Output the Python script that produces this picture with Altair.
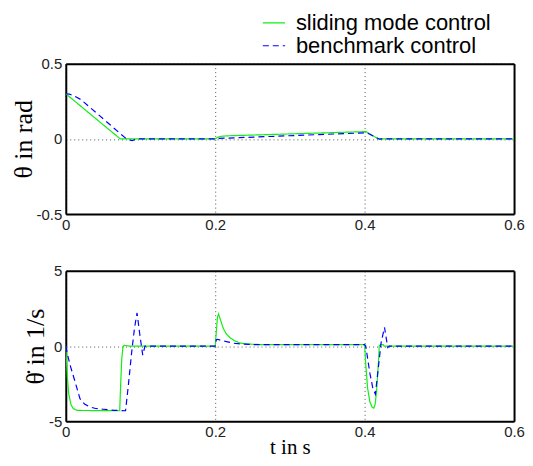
import altair as alt
import pandas as pd

SERIES = ["sliding mode control", "benchmark control"]

# theta (top panel)
SMC_T1 = [0.0, 0.0728, 0.200, 0.203, 0.207, 0.215, 0.400, 0.402, 0.418, 0.600]
SMC_V1 = [0.30, 0.00, 0.00, 0.010, 0.016, 0.020, 0.048, 0.048, 0.000, 0.000]
BM_T1 = [0.0, 0.005, 0.010, 0.020, 0.080, 0.084, 0.089, 0.095, 0.200, 0.205, 0.400, 0.403, 0.420, 0.425, 0.600]
BM_V1 = [0.30, 0.297, 0.288, 0.262, 0.005, -0.006, -0.012, 0.0, 0.0, 0.003, 0.040, 0.040, -0.002, 0.0, 0.0]

# theta-dot (bottom panel)
SMC_T2 = [0.000, 0.002, 0.004, 0.007, 0.010, 0.015, 0.0722, 0.0735, 0.0750, 0.0765, 0.0780, 0.0850,
          0.2000, 0.2030, 0.2045, 0.2080, 0.2110, 0.2150, 0.2200, 0.2260, 0.2330, 0.2450, 0.2600,
          0.4000, 0.4015, 0.4040, 0.4070, 0.4100, 0.4122, 0.4140, 0.4160, 0.4180, 0.4196, 0.4210,
          0.4248, 0.4260, 0.6000]
SMC_V2 = [0.0, -2.0, -3.2, -3.9, -4.15, -4.28, -4.30, -2.5, -0.8, -0.1, 0.05, 0.0,
          0.0, 1.9, 2.13, 1.6, 1.15, 0.8, 0.55, 0.35, 0.2, 0.13, 0.1,
          0.1, -1.2, -2.8, -3.7, -4.05, -4.12, -3.9, -3.0, -1.5, 0.0, 0.09,
          0.09, 0.0, 0.0]
BM_T2 = [0.000, 0.002, 0.006, 0.0126, 0.019, 0.025, 0.032, 0.040, 0.050, 0.065, 0.0800, 0.0840,
         0.0880, 0.0920, 0.0954, 0.0990, 0.1030, 0.1060, 0.1100, 0.2000, 0.2015, 0.2030, 0.2080,
         0.2150, 0.2230, 0.2350, 0.2500, 0.4000, 0.4015, 0.4070, 0.4110, 0.4144, 0.4180, 0.4220,
         0.4266, 0.4290, 0.4310, 0.4330, 0.6000]
BM_V2 = [0.0, -0.5, -1.3, -2.4, -3.5, -3.85, -4.05, -4.15, -4.2, -4.27, -4.30, -2.5,
         -0.5, 1.2, 2.2, 0.8, -0.6, 0.0, 0.0, 0.0, 0.42, 0.45, 0.38,
         0.3, 0.2, 0.13, 0.1, 0.1, 0.0, -1.8, -2.8, -3.2, -1.6, 0.2,
         1.25, 0.5, -0.1, 0.0, 0.0]

X_TICKS = [0, 0.2, 0.4, 0.6]
Y1_TICKS = [-0.5, 0, 0.5]
Y2_TICKS = [-5, 0, 5]

W, H = 450, 151


def frame(ts, vs, name):
    return pd.DataFrame({"t": ts, "v": vs, "series": name})


top_df = pd.concat([frame(SMC_T1, SMC_V1, SERIES[0]), frame(BM_T1, BM_V1, SERIES[1])])
bot_df = pd.concat([frame(SMC_T2, SMC_V2, SERIES[0]), frame(BM_T2, BM_V2, SERIES[1])])

color_scale = alt.Scale(domain=SERIES, range=["#11ee11", "#0000ff"])
dash_scale = alt.Scale(domain=SERIES, range=[[1, 0], [6, 4]])

LABEL_FONT = "Liberation Sans"
SERIF = "Liberation Serif"
LABEL_EXPR = "replace(format(datum.value, '~g'), '\u2212', '-')"
DOMAIN = dict(domain=True, domainColor="black", domainWidth=2)


def x_axis(title):
    kw = dict(values=X_TICKS, labelExpr=LABEL_EXPR, grid=True, gridDash=[1, 3], gridColor="#555",
              ticks=False, labelFont=LABEL_FONT, labelFontSize=15,
              labelColor="#222", labelPadding=3, labelFlush=False, **DOMAIN)
    if title:
        return alt.Axis(title=title, titleFont=SERIF, titleFontSize=21, titleFontWeight="normal",
                        titleColor="black", titlePadding=-3, **kw)
    return alt.Axis(title=None, **kw)


def y_axis(title, vals):
    return alt.Axis(values=vals, labelExpr=LABEL_EXPR, grid=True, gridDash=[1, 3], gridColor="#555",
                    ticks=False, labelFont=LABEL_FONT, labelFontSize=15,
                    labelColor="#222", labelPadding=4, title=title, titleFont=SERIF,
                    titleFontSize=26, titleFontWeight="normal", titleColor="black",
                    titlePadding=0, **DOMAIN)


def opposite_frame(df, ydom):
    return alt.Chart(df).mark_line(opacity=0).encode(
        x=alt.X("t:Q", scale=alt.Scale(domain=[0, 0.6], nice=False),
                axis=alt.Axis(orient="top", labels=False, ticks=False, grid=False, title=None, **DOMAIN)),
        y=alt.Y("v:Q", scale=alt.Scale(domain=ydom, nice=False),
                axis=alt.Axis(orient="right", labels=False, ticks=False, grid=False, title=None, **DOMAIN)),
        detail="series:N",
    )


top_lines = alt.Chart(top_df).mark_line(strokeWidth=1.2, clip=True).encode(
    x=alt.X("t:Q", scale=alt.Scale(domain=[0, 0.6], nice=False), axis=x_axis(None)),
    y=alt.Y("v:Q", scale=alt.Scale(domain=[-0.5, 0.5], nice=False), axis=y_axis("θ in rad", Y1_TICKS)),
    color=alt.Color("series:N", scale=color_scale, sort=SERIES,
                    legend=alt.Legend(title=None, orient="none", legendX=197, legendY=-53,
                                      labelFont=LABEL_FONT, labelFontSize=22, labelColor="black",
                                      labelLimit=0,
                                      symbolType="stroke", symbolSize=500, symbolStrokeWidth=1.2,
                                      rowPadding=-4, labelOffset=10)),
    strokeDash=alt.StrokeDash("series:N", scale=dash_scale, sort=SERIES, legend=None),
    detail="series:N",
)

bottom_lines = alt.Chart(bot_df).mark_line(strokeWidth=1.2, clip=True).encode(
    x=alt.X("t:Q", scale=alt.Scale(domain=[0, 0.6], nice=False), axis=x_axis("t in s")),
    y=alt.Y("v:Q", scale=alt.Scale(domain=[-5, 5], nice=False), axis=y_axis("θ̇ in 1/s", Y2_TICKS)),
    color=alt.Color("series:N", scale=color_scale, sort=SERIES, legend=None),
    strokeDash=alt.StrokeDash("series:N", scale=dash_scale, sort=SERIES, legend=None),
    detail="series:N",
)

top = alt.layer(top_lines, opposite_frame(top_df, [-0.5, 0.5])).resolve_axis(
    x="independent", y="independent").properties(width=W, height=H)
bottom = alt.layer(bottom_lines, opposite_frame(bot_df, [-5, 5])).resolve_axis(
    x="independent", y="independent").properties(width=W, height=H)

chart = alt.vconcat(top, bottom, spacing=32, background="white",
                    padding={"top": 2, "left": 2, "right": 0, "bottom": 0}).configure_view(
    stroke=None
)

chart.save("out.html", embed_options={"renderer": "svg", "actions": False})
